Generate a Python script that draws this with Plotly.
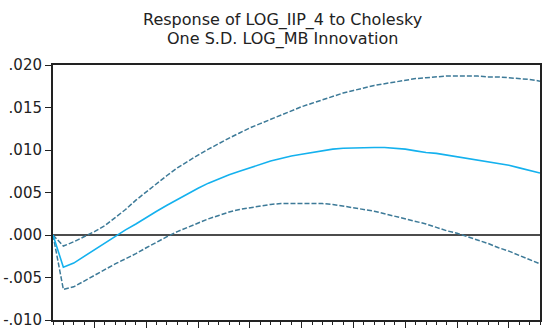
import plotly.graph_objects as go

periods = list(range(1, 49))

response = [0.0, -0.0038, -0.0033, -0.0025, -0.0017, -0.0009, -0.0001, 0.0006,
            0.0013, 0.0021, 0.0028, 0.0035, 0.0042, 0.0049, 0.0055, 0.0061,
            0.0066, 0.0071, 0.0075, 0.0079, 0.0083, 0.0087, 0.0090, 0.0093,
            0.0095, 0.0097, 0.0099, 0.0101, 0.0102, 0.01025, 0.0103, 0.0103,
            0.0103, 0.0102, 0.0101, 0.0099, 0.0097, 0.0096, 0.0094, 0.0092,
            0.0090, 0.0088, 0.0086, 0.0084, 0.0082, 0.0079, 0.0076, 0.0073]

upper = [0.0, -0.0013, -0.0008, -0.0002, 0.0004, 0.0011, 0.0020, 0.0030,
         0.0041, 0.0051, 0.0061, 0.0070, 0.0079, 0.0087, 0.0094, 0.0101,
         0.0108, 0.0114, 0.0120, 0.0126, 0.0131, 0.0136, 0.0141, 0.0146,
         0.0151, 0.0155, 0.0159, 0.0163, 0.0167, 0.0170, 0.0173, 0.0176,
         0.0178, 0.0180, 0.0182, 0.0184, 0.0185, 0.0186, 0.0187, 0.0187,
         0.0187, 0.0187, 0.0186, 0.0186, 0.0185, 0.0184, 0.0183, 0.0181]

lower = [0.0, -0.0064, -0.0061, -0.0054, -0.0047, -0.0040, -0.0034, -0.0028,
         -0.0022, -0.0015, -0.0008, -0.0002, 0.0004, 0.0009, 0.0014, 0.0019,
         0.0023, 0.0027, 0.0030, 0.0032, 0.0034, 0.0036, 0.0037, 0.0037,
         0.0037, 0.0037, 0.0037, 0.0036, 0.0034, 0.0032, 0.0030, 0.0028,
         0.0025, 0.0022, 0.0019, 0.0016, 0.0013, 0.0009, 0.0005, 0.0002,
         -0.0002, -0.0006, -0.0010, -0.0015, -0.0019, -0.0024, -0.0029, -0.0034]

y_tickvals = [-0.010, -0.005, 0.000, 0.005, 0.010, 0.015, 0.020]
y_ticktext = ["-.010", "-.005", ".000", ".005", ".010", ".015", ".020"]
x_tickvals = [5, 10, 15, 20, 25, 30, 35, 40, 45]
title_lines = ["Response of LOG_IIP_4 to Cholesky", "One S.D. LOG_MB Innovation"]

band_color = "#3d7a98"
center_color = "#14b1ee"

fig = go.Figure()
fig.add_trace(go.Scatter(x=periods, y=upper, mode="lines",
                         line=dict(color=band_color, width=1.5, dash="5px,2px")))
fig.add_trace(go.Scatter(x=periods, y=lower, mode="lines",
                         line=dict(color=band_color, width=1.5, dash="5px,2px")))
fig.add_trace(go.Scatter(x=periods, y=response, mode="lines",
                         line=dict(color=center_color, width=1.6)))

fig.add_shape(type="line", xref="paper", x0=0, x1=1, yref="y", y0=0, y1=0,
              line=dict(color="#111111", width=1.3), layer="below")

for text, ypos in zip(title_lines, [1.176, 1.102]):
    fig.add_annotation(text=text, xref="paper", yref="paper", x=0.472, y=ypos,
                       xanchor="center", yanchor="middle", showarrow=False,
                       font=dict(family="DejaVu Sans", size=16, color="#222222"))

fig.update_layout(
    width=547, height=329,
    margin=dict(l=53, r=7, t=65, b=9, autoexpand=False),
    paper_bgcolor="white", plot_bgcolor="white",
    showlegend=False,
    xaxis=dict(range=[1, 48], showgrid=False, zeroline=False, automargin=False,
               showline=True, linecolor="#222222", linewidth=2, mirror=True,
               tickmode="array", tickvals=x_tickvals, showticklabels=False,
               ticks="outside", ticklen=6, tickcolor="#222222", tickwidth=1,
               minor=dict(tickmode="linear", tick0=1, dtick=1, ticks="outside",
                          ticklen=3, tickcolor="#222222", tickwidth=1, showgrid=False)),
    yaxis=dict(range=[-0.010, 0.020], showgrid=False, zeroline=False, automargin=False,
               showline=True, linecolor="#222222", linewidth=2, mirror=True,
               tickmode="array", tickvals=y_tickvals, ticktext=y_ticktext,
               ticklabeloverflow="allow",
               ticks="outside", ticklen=6, tickcolor="#222222", tickwidth=1,
               tickfont=dict(family="DejaVu Sans", size=15, color="#222222")),
)

fig.write_html("out.html")
